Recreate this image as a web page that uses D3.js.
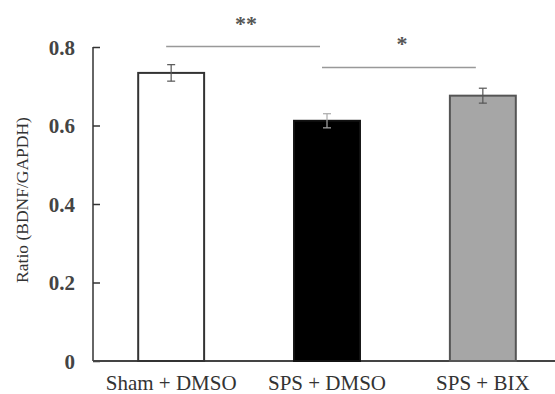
<!DOCTYPE html>
<html lang="en">
<head>
    <meta charset="UTF-8">
    <title>BDNF/GAPDH</title>
    <script src="https://d3js.org/d3.v7.min.js"></script>
    <style>
        body { margin: 0; background: #fff; }
        text { font-family: "Liberation Serif", "DejaVu Serif", serif; fill: #333; }
        .tick text { font-weight: bold; font-size: 21px; fill: #444; }
        .axis path, .tick line { stroke: #333; stroke-width: 1.5; }
    </style>
</head>
<body>
<script>
    const width = 555;
    const height = 394;

    const groups = ["Sham + DMSO", "SPS + DMSO", "SPS + BIX"];
    const ratios = [0.734, 0.612, 0.676];
    const errors = [0.021, 0.018, 0.019];
    const fills = ["#ffffff", "#000000", "#a6a6a6"];
    const strokes = ["#333333", "#111111", "#555555"];
    const yTicks = [0, 0.2, 0.4, 0.6, 0.8];

    // significance brackets: [from group, to group, label, level]
    const sigFrom = [0, 1];
    const sigTo = [1, 2];
    const sigLabels = ["**", "*"];
    const sigLevels = [0.801, 0.748];

    const svg = d3.select("body").append("svg")
        .attr("width", width).attr("height", height);

    const y = d3.scaleLinear().domain([0, 0.8]).range([361, 47]);
    const x = d3.scaleBand().domain(groups).range([93, 561])
        .paddingInner(0.577).paddingOuter(0.29);

    // y axis, ticks pointing inward
    const yAxis = svg.append("g").attr("class", "axis")
        .attr("transform", "translate(93,0)")
        .call(d3.axisRight(y).tickValues(yTicks).tickSize(7)
            .tickFormat(d => d === 0 ? "0" : d3.format(".1f")(d)));
    yAxis.select(".domain").attr("d", `M0,${y(0.8)}H0V${y(0)}`);
    yAxis.selectAll(".tick text")
        .attr("x", -18).attr("text-anchor", "end").attr("dy", "0.35em");

    // x axis line
    svg.append("line")
        .attr("x1", 93).attr("x2", width)
        .attr("y1", y(0)).attr("y2", y(0))
        .attr("stroke", "#444").attr("stroke-width", 2);

    // bars
    svg.selectAll("rect.bar")
        .data(groups)
        .enter().append("rect")
        .attr("class", "bar")
        .attr("x", d => x(d))
        .attr("width", x.bandwidth())
        .attr("y", (d, i) => y(ratios[i]))
        .attr("height", (d, i) => y(0) - y(ratios[i]))
        .attr("fill", (d, i) => fills[i])
        .attr("stroke", (d, i) => strokes[i])
        .attr("stroke-width", 2);

    // error bars
    const eb = svg.selectAll("g.err")
        .data(groups)
        .enter().append("g")
        .attr("class", "err")
        .attr("stroke", (d, i) => i === 1 ? "#aaa" : "#555")
        .attr("stroke-width", 1.2);
    eb.append("line")
        .attr("x1", d => x(d) + x.bandwidth() / 2)
        .attr("x2", d => x(d) + x.bandwidth() / 2)
        .attr("y1", (d, i) => y(ratios[i] + errors[i]))
        .attr("y2", (d, i) => y(ratios[i] - errors[i]));
    [1, -1].forEach(s => {
        eb.append("line")
            .attr("x1", d => x(d) + x.bandwidth() / 2 - 4)
            .attr("x2", d => x(d) + x.bandwidth() / 2 + 4)
            .attr("y1", (d, i) => y(ratios[i] + s * errors[i]))
            .attr("y2", (d, i) => y(ratios[i] + s * errors[i]));
    });

    // category labels
    svg.selectAll("text.cat")
        .data(groups)
        .enter().append("text")
        .attr("class", "cat")
        .attr("x", d => x(d) + x.bandwidth() / 2)
        .attr("y", 390)
        .attr("text-anchor", "middle")
        .style("font-size", "21px")
        .text(d => d);

    // y label
    svg.append("text")
        .attr("transform", "translate(28,200) rotate(-90)")
        .attr("text-anchor", "middle")
        .style("font-size", "17.5px")
        .text("Ratio (BDNF/GAPDH)");

    // significance lines
    sigLabels.forEach((lab, i) => {
        const a = x(groups[sigFrom[i]]) + x.bandwidth() / 2 - 5;
        const b = x(groups[sigTo[i]]) + x.bandwidth() / 2 - 7;
        svg.append("line")
            .attr("x1", a).attr("x2", b)
            .attr("y1", y(sigLevels[i])).attr("y2", y(sigLevels[i]))
            .attr("stroke", "#999").attr("stroke-width", 1.5);
        svg.append("text")
            .attr("x", (a + b) / 2 + 3)
            .attr("y", y(sigLevels[i]) - 16)
            .attr("text-anchor", "middle")
            .style("font-size", "22px").style("font-weight", "bold")
            .style("fill", "#555")
            .text(lab);
    });
</script>
</body>
</html>
